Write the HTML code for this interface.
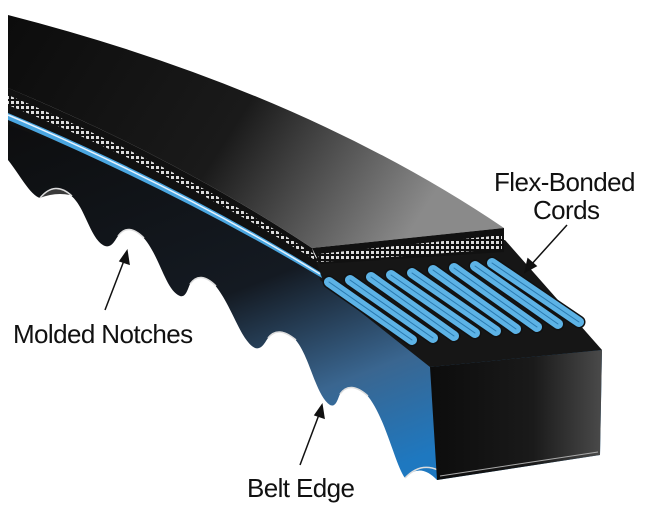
<!DOCTYPE html>
<html><head><meta charset="utf-8"><style>
html,body{margin:0;padding:0;background:#fff;}
svg{display:block}
text{font-family:"Liberation Sans",sans-serif;font-size:26px;fill:#111;letter-spacing:-0.6px}
</style></head><body>
<svg width="650" height="521" viewBox="0 0 650 521" xmlns="http://www.w3.org/2000/svg">
<defs>
<linearGradient id="top" x1="0" y1="0" x2="1" y2="0.3">
<stop offset="0" stop-color="#0c0c0c"/><stop offset="0.55" stop-color="#1a1a1a"/><stop offset="1" stop-color="#8a8a8a"/>
</linearGradient>
<linearGradient id="side" x1="0" y1="0" x2="0.6" y2="1">
<stop offset="0" stop-color="#0c0c0c"/><stop offset="0.55" stop-color="#141a22"/><stop offset="0.8" stop-color="#3a6690"/><stop offset="1" stop-color="#1e78c0"/>
</linearGradient>
<linearGradient id="face" x1="0" y1="0" x2="1" y2="0">
<stop offset="0" stop-color="#0c0c0c"/><stop offset="0.6" stop-color="#1a1a1a"/><stop offset="1" stop-color="#4a4a4a"/>
</linearGradient>
<pattern id="dots" width="5" height="5" patternUnits="userSpaceOnUse">
<rect width="5" height="5" fill="#111"/><rect x="1" y="1" width="3" height="3" fill="#ddd"/>
</pattern>
</defs>
<!-- side body with notches -->
<path d="M8,88 Q200,170 320,262 L440,340 L602,350 L600,455 L437,480
Q420,462 405,478 C395,465 385,415 366,394 Q350,380 340,394 C338,398 336,408 330,405 C315,395 310,355 294,338 Q278,325 268,338 C265,342 262,350 255,348 C240,340 232,305 214,284 Q200,270 190,284 C188,288 186,298 180,296 C165,290 160,255 142,236 Q128,222 118,236 C115,240 112,248 105,246 C90,240 85,205 70,195 Q55,180 40,198 C30,195 20,175 8,160 Z" fill="url(#side)"/>
<!-- notch recesses -->
<g fill="#3a3a3a">
<path d="M40,198 Q55,180 70,195 Q55,192 40,198Z"/>
</g>
<g fill="none" stroke="#ddd" stroke-width="1.5">
<path d="M40,198 Q55,180 72,196"/><path d="M118,236 Q128,222 144,238"/><path d="M190,284 Q200,270 216,286"/><path d="M268,338 Q278,325 296,340"/><path d="M340,394 Q350,380 368,396"/><path d="M405,478 Q420,462 438,470"/>
</g>
<!-- front face -->
<path d="M430,367 L602,350 L600,455 L437,480 Z" fill="url(#face)"/>
<path d="M440,476 L598,452" stroke="#aaa" stroke-width="1"/>
<!-- face top area under cords -->
<path d="M316,258 L505,240 L602,350 L430,367 L320,280 Z" fill="#161616"/>
<!-- left layers -->
<path d="M8,88 Q180,160 312,248 L322,278 Q180,185 8,125 Z" fill="#111"/>
<path d="M8,95 Q180,168 314,254 L318,262 Q180,175 8,105 Z" fill="url(#dots)"/>
<path d="M8,113 Q180,185 320,272 L322,278 Q180,193 8,120 Z" fill="#4aa6e0"/>
<path d="M8,115 Q180,188 320,274" fill="none" stroke="#e8f4ff" stroke-width="1.5"/>
<!-- top surface -->
<path d="M8,15 Q300,90 504,228 L312,248 Q180,160 8,88 Z" fill="url(#top)"/>
<!-- dotted front strip -->
<path d="M312,248 L504,228 L504,252 L320,264 Z" fill="#111"/>
<path d="M318,254 L502,235 L502,249 L320,262 Z" fill="url(#dots)"/>
<!-- cords -->
<g stroke-linecap="round">
<g stroke="#111" stroke-width="13">
<line x1="329" y1="282" x2="412" y2="340"/><line x1="350" y1="280" x2="433" y2="338"/><line x1="371" y1="277" x2="454" y2="336"/><line x1="391" y1="275" x2="475" y2="333"/><line x1="412" y1="273" x2="496" y2="331"/><line x1="433" y1="270" x2="516" y2="329"/><line x1="454" y1="268" x2="537" y2="327"/><line x1="475" y1="266" x2="558" y2="324"/><line x1="492" y1="263" x2="579" y2="322"/>
</g>
<g stroke="#5db3e6" stroke-width="10">
<line x1="329" y1="282" x2="412" y2="340"/><line x1="350" y1="280" x2="433" y2="338"/><line x1="371" y1="277" x2="454" y2="336"/><line x1="391" y1="275" x2="475" y2="333"/><line x1="412" y1="273" x2="496" y2="331"/><line x1="433" y1="270" x2="516" y2="329"/><line x1="454" y1="268" x2="537" y2="327"/><line x1="475" y1="266" x2="558" y2="324"/><line x1="492" y1="263" x2="579" y2="322"/>
</g>
<g stroke="#2a7ab0" stroke-width="1">
<line x1="329" y1="282" x2="412" y2="340"/><line x1="350" y1="280" x2="433" y2="338"/><line x1="371" y1="277" x2="454" y2="336"/><line x1="391" y1="275" x2="475" y2="333"/><line x1="412" y1="273" x2="496" y2="331"/><line x1="433" y1="270" x2="516" y2="329"/><line x1="454" y1="268" x2="537" y2="327"/><line x1="475" y1="266" x2="558" y2="324"/><line x1="492" y1="263" x2="579" y2="322"/>
</g>
</g>
<!-- arrows -->
<g stroke="#111" stroke-width="1.5" fill="#111">
<line x1="567" y1="225" x2="530" y2="266"/><path d="M525,272 L528,259 L536,266 Z"/>
<line x1="105" y1="310" x2="125" y2="258"/><path d="M127,251 L129,264 L120,261 Z"/>
<line x1="300" y1="465" x2="320" y2="412"/><path d="M322,405 L324,418 L315,415 Z"/>
</g>
<text x="494" y="191">Flex-Bonded</text>
<text x="533" y="219">Cords</text>
<text x="13" y="343">Molded Notches</text>
<text x="247" y="497">Belt Edge</text>
</svg>
</body></html>
